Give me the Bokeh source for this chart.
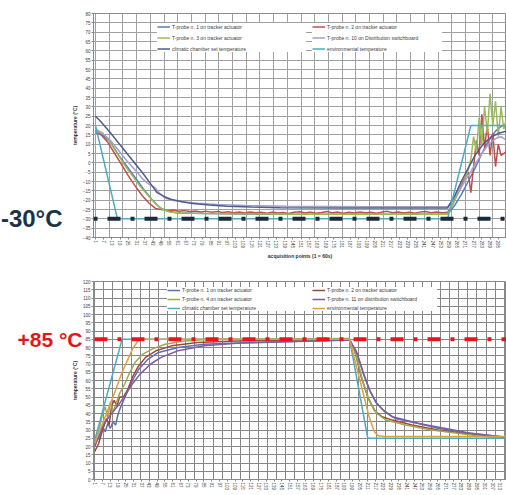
from bokeh.plotting import figure
from bokeh.layouts import column
from bokeh.models import (Range1d, FixedTicker, SingleIntervalTicker, Legend,
                          LegendItem, Label, Arrow, BoxAnnotation)
from bokeh.embed import file_html
from bokeh.resources import INLINE

FONT = "Liberation Sans"

# ---------------- data: top chart (-30 °C test) ----------------
top_labels = ["T-probe n. 1 on tracker actuator", "T-probe n. 2 on tracker actuator",
              "T-probe n. 3 on tracker actuator", "T-probe n. 10 on Distribution switchboard",
              "climatic chamber set temperature", "environmental temperature"]

top_p1 = [(1, 16), (6, 15), (12, 11), (18, 4), (24, -2), (30, -8), (36, -14), (42, -19.5),
          (48, -24), (54, -26), (60, -26.8), (80, -27.2), (120, -27.5), (180, -27.6),
          (258, -27.6), (263, -23), (268, -17), (273, -10), (278, -3), (283, 5), (288, 12),
          (293, 17), (298, 20), (301, 19)]
top_p2 = [(1, 17), (5, 15), (10, 11), (15, 5), (20, -1), (25, -7), (30, -12.5), (35, -17.5),
          (40, -21.5), (45, -24.5), (50, -25.2), (54, -25.6), (58, -25.4), (62, -25.9),
          (66, -25.6), (70, -26.1), (74, -25.8), (78, -26.3), (82, -26.0), (86, -26.5),
          (90, -26.1), (94, -26.6), (98, -26.2), (102, -26.8), (106, -26.4), (110, -26.9),
          (114, -26.3), (118, -26.8), (122, -26.5), (126, -27.0), (130, -26.4), (134, -26.9),
          (138, -26.6), (142, -27.1), (146, -26.5), (150, -26.2), (154, -26.9), (158, -26.4),
          (162, -27.0), (166, -26.6), (170, -26.1), (174, -26.8), (178, -26.4), (182, -27.0),
          (186, -26.5), (190, -26.9), (194, -26.3), (198, -26.8), (202, -26.5), (206, -27.0),
          (210, -26.4), (214, -26.0), (218, -26.7), (222, -26.3), (226, -26.9), (230, -26.5),
          (234, -27.0), (238, -26.4), (242, -26.1), (246, -26.7), (250, -26.3), (254, -26.8),
          (258, -26.5), (262, -22), (266, -15), (270, -9), (273, -5), (275, -16), (277, -2),
          (279, 12), (281, 4), (283, 26), (285, 8), (287, 20), (289, 4), (291, 16), (293, -2),
          (295, 10), (297, 4), (301, 6)]
top_p3 = [(1, 18), (6, 16), (10, 13), (16, 6), (22, -1), (28, -7), (34, -13), (40, -18),
          (45, -22), (50, -25), (56, -26.5), (70, -27), (100, -27.3), (150, -27.5),
          (200, -27.5), (258, -27.5), (262, -22), (266, -16), (270, -10), (273, -4), (275, 2),
          (277, 14), (279, 6), (281, 24), (283, 10), (285, 30), (287, 16), (289, 37), (291, 20),
          (293, 33), (295, 14), (297, 30), (299, 18), (301, 24)]
top_p10 = [(1, 17), (6, 16), (12, 12), (18, 6.5), (24, 1), (30, -4), (36, -9), (40, -11.5),
           (44, -13), (48, -16.5), (52, -19), (58, -20.2), (66, -21), (76, -21.6), (90, -22.3),
           (110, -22.9), (140, -23.3), (200, -23.5), (258, -23.5), (263, -19), (268, -13),
           (273, -7), (278, -1), (283, 5), (288, 10), (293, 13), (297, 14), (301, 12)]
top_set = [(1, 25), (5, 22), (12, 16), (18, 10.5), (24, 5), (30, -0.5), (36, -6), (41, -11),
           (46, -16), (51, -18), (56, -19.5), (64, -20.8), (72, -21.8), (84, -22.6),
           (97, -23.2), (115, -23.7), (136, -24), (180, -24.2), (220, -24.2), (258, -24.2),
           (263, -18), (268, -10), (273, -3), (278, 4), (284, 10), (290, 14), (296, 16),
           (301, 17)]
top_env = [(1, 20), (17, -30), (258, -30), (275, 20), (301, 20)]

# ---------------- data: bottom chart (+85 °C test) ----------------
bot_labels = ["T-probe n. 1 on tracker actuator", "T-probe n. 2 on tracker actuator",
              "T-probe n. 4 on tracker actuator", "T-probe n. 11 on distribution switchboard",
              "climatic chamber set temperature", "environmental temperature"]

bot_p1 = [(1, 22), (4, 25), (7, 32), (9, 29), (11, 34), (13, 31), (15, 35), (17, 33), (19, 40),
          (22, 46), (26, 53), (30, 60), (35, 67), (42, 73), (50, 77), (65, 80), (85, 82),
          (120, 83), (197, 84.5), (203, 76), (208, 63), (213, 53), (218, 46), (224, 41),
          (232, 37), (250, 34), (270, 31), (290, 28), (318, 25.5)]
bot_p2 = [(1, 17), (4, 22), (7, 30), (10, 37), (12, 33), (14, 45), (16, 48), (18, 44), (20, 50),
          (23, 50), (26, 54), (30, 62), (34, 68), (40, 74), (48, 78), (60, 81), (80, 83),
          (110, 84), (150, 84.5), (197, 85), (201, 78), (206, 62), (211, 50), (216, 42),
          (222, 38), (230, 36), (245, 33), (265, 30), (285, 28), (318, 25)]
bot_p4 = [(1, 20), (3, 27), (5, 33), (7, 40), (9, 44), (11, 37), (13, 47), (15, 41), (17, 45),
          (20, 52), (24, 58), (28, 65), (32, 71), (38, 76), (45, 79), (55, 82), (70, 84),
          (90, 85), (197, 85.5), (202, 75), (207, 60), (212, 48), (218, 40), (225, 36),
          (240, 33), (260, 30), (280, 28), (300, 26), (318, 25)]
bot_p11 = [(1, 20), (4, 26), (7, 32), (10, 36), (13, 39), (16, 42), (20, 46), (25, 52), (30, 58),
           (36, 64), (44, 70), (52, 74), (65, 78), (85, 81), (110, 82.5), (150, 83.5),
           (197, 84.5), (202, 78), (207, 66), (212, 55), (217, 47), (223, 42), (230, 38),
           (245, 35), (265, 31), (285, 28.5), (318, 25.5)]
bot_set = [(1, 24), (22, 85), (197, 85), (211, 25), (318, 25)]
bot_env = [(1, 22), (5, 30), (10, 40), (15, 50), (22, 65), (30, 79), (35, 85), (197, 85),
           (205, 60), (212, 38), (216, 29), (219, 26.5), (224, 26), (318, 26)]

top_colors = ["#4F81BD", "#C0504D", "#9BBB59", "#A99BD4", "#4A5F8E", "#4BACC6"]
bot_colors = ["#5B6FB5", "#A0463C", "#9BAA4F", "#7D5FA0", "#4BACC6", "#E0A040"]

FRAME_W = 413


def xs(pairs):
    return [a for a, b in pairs]


def ys(pairs):
    return [b for a, b in pairs]


def style(p, xlabel, grid_color):
    p.background_fill_color = "white"
    p.border_fill_color = "white"
    p.outline_line_color = "#8a8a8a"
    for ax in (p.xaxis[0], p.yaxis[0]):
        ax.major_label_text_font = FONT
        ax.major_label_text_font_size = "4.5px"
        ax.major_label_text_color = "#404040"
        ax.major_tick_in = 0
        ax.major_tick_out = 2
        ax.minor_tick_line_color = None
        ax.axis_line_color = "#8a8a8a"
        ax.major_tick_line_color = "#8a8a8a"
        ax.major_label_standoff = 1
        ax.axis_label_text_font = FONT
        ax.axis_label_text_font_size = "5px"
        ax.axis_label_text_font_style = "bold"
        ax.axis_label_text_color = "#303030"
        ax.axis_label_standoff = 2
    p.yaxis[0].axis_label = "temperature (°C)"
    if xlabel:
        p.xaxis[0].axis_label = xlabel
    p.xaxis[0].major_label_orientation = "vertical"
    p.xgrid.grid_line_color = grid_color
    p.ygrid.grid_line_color = grid_color


def legends(p, renderers, labels, loc_left, loc_right, h, sp, w_left, w_right, fs):
    common = dict(label_text_font=FONT, label_text_font_size=fs, label_text_color="#404040",
                  glyph_width=13, glyph_height=h, label_height=h, spacing=sp, padding=3,
                  margin=0, border_line_color=None, background_fill_color="white",
                  background_fill_alpha=1.0, label_standoff=2)
    left = Legend(items=[LegendItem(label=labels[i], renderers=[renderers[i]]) for i in (0, 2, 4)],
                  location=loc_left, label_width=w_left, **common)
    right = Legend(items=[LegendItem(label=labels[i], renderers=[renderers[i]]) for i in (1, 3, 5)],
                   location=loc_right, label_width=w_right, **common)
    p.add_layout(left)
    p.add_layout(right)


def chart_border(p, x0, x1, y0, y1, px_x, px_y, left_px, top_px, bottom_px):
    # grey "chart area" frame of the Excel chart, placed by pixel offsets from the plot area
    box = BoxAnnotation(left=x0 - left_px / px_x, right=x1 + 40 / px_x,
                        top=y1 + top_px / px_y, bottom=y0 - bottom_px / px_y,
                        fill_alpha=0, line_color="#bdbdbd", line_width=1)
    p.add_layout(box, "left")


# ---------------- top figure ----------------
top_x0, top_x1 = -0.46, 301.0
top_y0, top_y1 = -40, 80
p1 = figure(width=506, height=265, x_range=Range1d(top_x0, top_x1),
            y_range=Range1d(top_y0, top_y1),
            output_backend="svg", toolbar_location=None, min_border_left=93,
            min_border_right=0, min_border_top=13, min_border_bottom=28)
style(p1, "acquisition points (1 = 60s)", "#a0a0a0")
p1.yaxis[0].ticker = SingleIntervalTicker(interval=5, num_minor_ticks=0)
p1.xaxis[0].ticker = FixedTicker(ticks=list(range(1, 300, 6)))
p1.xgrid[0].ticker = FixedTicker(ticks=list(range(1, 300, 10)))

top_series = [top_p1, top_p2, top_p3, top_p10, top_set, top_env]
top_r = []
for s, c in zip(top_series, top_colors):
    top_r.append(p1.line(xs(s), ys(s), line_color=c, line_width=1.5))
legends(p1, top_r, top_labels, (64, 185), (219, 185), 7, 4, 134, 115, "5px")

pxx_top = FRAME_W / (top_x1 - top_x0)
pxy_top = 224 / (top_y1 - top_y0)
chart_border(p1, top_x0, top_x1, top_y0, top_y1, pxx_top, pxy_top, 21, 5, 25)
p1.add_layout(Arrow(start=None, end=None, x_start=top_x0 - 23 / pxx_top, y_start=-30,
                    x_end=top_x1, y_end=-30, line_color="#1B2B38", line_width=4,
                    line_dash="13 10 4 10"), "left")
p1.add_layout(Label(x=top_x0, y=-30, x_offset=-31, text="-30°C", text_align="right",
                    text_baseline="middle", text_font=FONT, text_font_style="bold",
                    text_font_size="24px", text_color="#1B3344"), "left")

# ---------------- bottom figure ----------------
bot_x0, bot_x1 = 0.0, 317.7
bot_y0, bot_y1 = 0, 120
p2 = figure(width=506, height=230, x_range=Range1d(bot_x0, bot_x1),
            y_range=Range1d(bot_y0, bot_y1),
            output_backend="svg", toolbar_location=None, min_border_left=93,
            min_border_right=0, min_border_top=16, min_border_bottom=16)
style(p2, None, "#878787")
p2.yaxis[0].ticker = SingleIntervalTicker(interval=5, num_minor_ticks=0)
p2.xaxis[0].ticker = FixedTicker(ticks=list(range(1, 318, 6)))
p2.xgrid[0].ticker = FixedTicker(ticks=list(range(1, 318, 7)))

bot_series = [bot_p1, bot_p2, bot_p4, bot_p11, bot_set, bot_env]
bot_r = []
for s, c in zip(bot_series, bot_colors):
    bot_r.append(p2.line(xs(s), ys(s), line_color=c, line_width=1.5))
legends(p2, bot_r, bot_labels, (74, 168), (219, 168), 6, 3, 134, 110, "5px")

pxx_bot = FRAME_W / (bot_x1 - bot_x0)
pxy_bot = 198 / (bot_y1 - bot_y0)
chart_border(p2, bot_x0, bot_x1, bot_y0, bot_y1, pxx_bot, pxy_bot, 21, 11, 40)
p2.add_layout(Arrow(start=None, end=None, x_start=bot_x0 - 6 / pxx_bot, y_start=85,
                    x_end=bot_x1, y_end=85, line_color="#E8141B", line_width=4,
                    line_dash="13 10 4 10", line_dash_offset=30), "left")
p2.add_layout(Label(x=bot_x0, y=85, x_offset=-11, text="+85 °C", text_align="right",
                    text_baseline="middle", text_font=FONT, text_font_style="bold",
                    text_font_size="21px", text_color="#E8141B"), "left")

layout = column(p1, p2)
open("out.html", "w").write(file_html(layout, INLINE))
